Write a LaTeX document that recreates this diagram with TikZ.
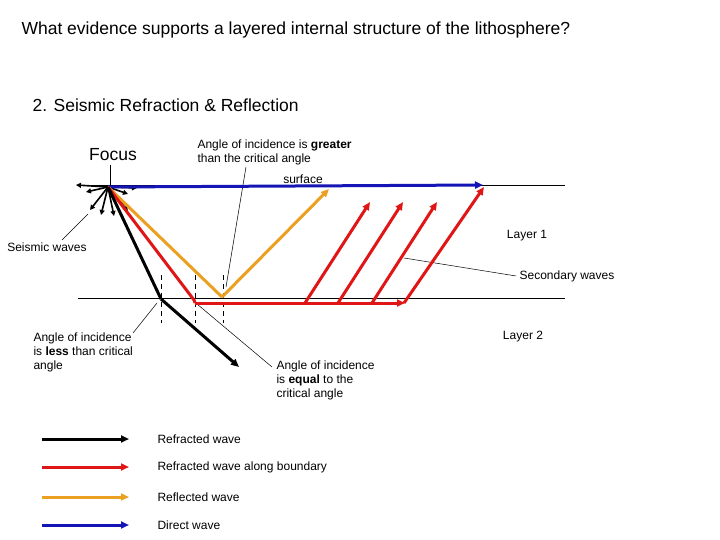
\documentclass[tikz,border=0pt]{standalone}
\usepackage{fontspec}
\setmainfont{Liberation Sans}
\usetikzlibrary{arrows.meta}
\definecolor{ow}{HTML}{EBA021}
\definecolor{rw}{HTML}{E01515}
\definecolor{bw}{HTML}{1515B5}
\begin{document}
\begin{tikzpicture}[x=1pt,y=-1pt,
  sm/.style={font=\fontsize{12}{14}\selectfont,align=left},
  big/.style={font=\fontsize{17.5}{20}\selectfont},
  wave/.style={line width=3pt,-{Triangle[length=8pt,width=7pt]}},
  hair/.style={line width=0.5pt},
  dsh/.style={hair,dash pattern=on 5pt off 4pt},
  mini/.style={line width=1.6pt,-{Triangle[length=5pt,width=5pt]}}]
\useasboundingbox (0,0) rectangle (720,540);
\node[big,anchor=west] (t) at (18,30) {What evidence supports a layered internal structure of the lithosphere?};
\node[big,anchor=west] (s) at (29,105) {2. Seismic Refraction \& Reflection};
\node[big] (focus) at (113,155) {Focus};
\node[sm,anchor=west] (gr) at (194,152) {Angle of incidence is \textbf{greater}\\than the critical angle};
\node[sm] (surf) at (303,179) {surface};
\node[sm] (l1) at (527,236) {Layer 1};
\node[sm] (l2) at (523,337) {Layer 2};
\node[sm] (sw) at (47,247) {Seismic waves};
\node[sm] (sec) at (567,276) {Secondary waves};
\node[sm,anchor=north west] (less) at (30,329) {Angle of incidence\\is \textbf{less} than critical\\angle};
\node[sm,anchor=north west] (eq) at (273,357) {Angle of incidence\\is \textbf{equal} to the\\critical angle};
\coordinate (F) at (108,187);
\coordinate (sL) at (78,185); \coordinate (sR) at (565,185);
\coordinate (bL) at (78,298); \coordinate (bR) at (565,298);
\draw[hair] (sL) -- (sR);
\draw[hair] (bL) -- (bR);
\foreach \x in {161,195,223} \draw[dsh] (\x,275) -- (\x,323);
\draw[hair] (110,165) -- (110,186);
\draw[hair] (246,167) -- (226,287);
\draw[hair] (88,214) -- (62,240);
\draw[hair] (404,258) -- (sec.west);
\draw[hair] (157,303) -- (133,333);
\draw[hair] (197,304) -- (272,367);
\foreach \p in {(76,185),(86,192),(90,210),(101,215),(114,216),(128,211),(137,188),(128,194)}
  \draw[mini] (F) -- \p;
\draw[wave,bw] (F) -- (483,185);
\draw[wave,-,ow] (F) -- (222,297);
\draw[wave,ow] (222,297) -- (329,189);
\draw[wave,-,rw] (F) -- (194,300) -- (195,303);
\draw[wave,rw] (195,303) -- (405,303);
\draw[wave,rw] (404,303) -- (484,187);
\foreach \x in {305,338,372} \draw[wave,rw] (\x,303) -- (\x+65,202);
\draw[wave,-] (F) -- (161,299);
\draw[wave] (161,299) -- (239,367);
\foreach \y/\c/\t in {439/black/Refracted wave,467/rw/Refracted wave along boundary,497/ow/Reflected wave,525/bw/Direct wave}{
  \node[sm,anchor=west] (lg\y) at (154,\y) {\t};
  \draw[wave,\c] (42,\y) -- (129,\y);
}
\end{tikzpicture}
\end{document}
